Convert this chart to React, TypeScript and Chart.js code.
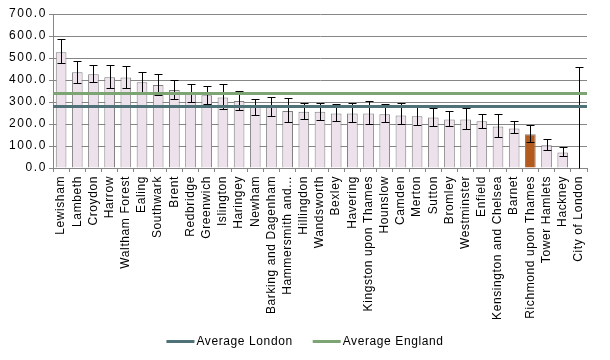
import React, { useEffect, useRef } from 'react';
import { Chart, registerables } from 'chart.js';

Chart.register(...registerables);

const boroughs = [
  'Lewisham', 'Lambeth', 'Croydon', 'Harrow', 'Waltham Forest', 'Ealing', 'Southwark', 'Brent',
  'Redbridge', 'Greenwich', 'Islington', 'Haringey', 'Newham', 'Barking and Dagenham',
  'Hammersmith and...', 'Hillingdon', 'Wandsworth', 'Bexley', 'Havering', 'Kingston upon Thames',
  'Hounslow', 'Camden', 'Merton', 'Sutton', 'Bromley', 'Westminster', 'Enfield',
  'Kensington and Chelsea', 'Barnet', 'Richmond upon Thames', 'Tower Hamlets', 'Hackney', 'City of London',
];

const rates = [
  526, 435, 426, 412, 411, 390, 377, 355,
  340, 331, 321, 304, 277, 278,
  259, 256, 256, 248, 248, 248,
  244, 239, 235, 230, 221, 221, 212,
  189, 180, 153, 103, 71, 0,
];

const ciLower = [
  477, 386, 390, 362, 362, 345, 332, 314,
  299, 291, 267, 262, 241, 236,
  208, 221, 217, 212, 208, 200,
  208, 200, 194, 189, 189, 176, 180,
  139, 158, 117, 80, 53, 0,
];

const ciUpper = [
  585, 488, 467, 467, 462, 435, 426, 399,
  380, 375, 380, 349, 312, 321,
  317, 297, 297, 292, 294, 303,
  289, 294, 276, 274, 258, 271, 244,
  244, 212, 194, 130, 94, 459,
];

const averageLabels = ['Average London', 'Average England'];
const averageValues = [280, 339];
const averageColors = ['#4E7277', '#7DA574'];

const highlightedBorough = 'Richmond upon Thames';

const yMin = 0;
const yMax = 700;
const yStep = 100;

const FONT = "'Liberation Sans', Arial, sans-serif";
const GRID = '#868686';

const errorBarPlugin = {
  id: 'errorBars',
  afterDatasetsDraw(chart: any) {
    const meta = chart.getDatasetMeta(0);
    const y = chart.scales.y;
    const ctx = chart.ctx;
    ctx.save();
    ctx.strokeStyle = '#000';
    ctx.lineWidth = 1;
    meta.data.forEach((bar: any, i: number) => {
      const x = Math.round(bar.x) + 0.5;
      const yTop = Math.round(y.getPixelForValue(ciUpper[i])) + 0.5;
      const yBot = Math.round(y.getPixelForValue(ciLower[i])) + 0.5;
      const half = 4;
      ctx.beginPath();
      ctx.moveTo(x, yTop);
      ctx.lineTo(x, yBot);
      ctx.moveTo(x - half, yTop);
      ctx.lineTo(x + half, yTop);
      if (ciLower[i] > yMin) {
        ctx.moveTo(x - half, yBot);
        ctx.lineTo(x + half, yBot);
      }
      ctx.stroke();
    });
    // average reference lines across the whole plot area
    const area = chart.chartArea;
    averageValues.forEach((v, i) => {
      const py = y.getPixelForValue(v);
      ctx.strokeStyle = averageColors[i];
      ctx.lineWidth = 3;
      ctx.beginPath();
      ctx.moveTo(area.left, py);
      ctx.lineTo(area.right, py);
      ctx.stroke();
    });
    ctx.restore();
  },
};

const spacingPlugin = {
  id: 'letterSpacing',
  beforeDraw(chart: any) {
    (chart.ctx as any).letterSpacing = '0.6px';
  },
  afterDraw(chart: any) {
    (chart.ctx as any).letterSpacing = '0px';
  },
};

const legendPlugin = {
  id: 'bottomLegend',
  afterDraw(chart: any) {
    const ctx = chart.ctx;
    ctx.save();
    ctx.font = `12px ${FONT}`;
    (ctx as any).letterSpacing = '0.6px';
    const lineW = 28;
    const gapText = 2;
    const gapItem = 20;
    const widths = averageLabels.map((l) => ctx.measureText(l).width);
    const total =
      widths.reduce((a: number, w: number) => a + lineW + gapText + w, 0) + gapItem * (averageLabels.length - 1);
    let x = (chart.width - total) / 2;
    const y = chart.height - 19;
    averageLabels.forEach((label, i) => {
      ctx.strokeStyle = averageColors[i];
      ctx.lineWidth = 3;
      ctx.beginPath();
      ctx.moveTo(x, y + 0.5);
      ctx.lineTo(x + lineW, y + 0.5);
      ctx.stroke();
      ctx.fillStyle = '#000';
      ctx.textBaseline = 'middle';
      ctx.textAlign = 'left';
      ctx.fillText(label, x + lineW + gapText, y + 1);
      x += lineW + gapText + widths[i] + gapItem;
    });
    ctx.restore();
  },
};

export default function App() {
  const ref = useRef<HTMLCanvasElement | null>(null);

  useEffect(() => {
    if (!ref.current) return;
    const barColors = boroughs.map((b) => (b === highlightedBorough ? '#B35A1E' : '#EDE1EC'));
    const chart = new Chart(ref.current, {
      type: 'bar',
      data: {
        labels: boroughs,
        datasets: [
          {
            label: 'Rate',
            data: rates,
            backgroundColor: barColors,
            borderColor: '#7F7F7F',
            borderWidth: 1,
            barPercentage: 0.66,
            categoryPercentage: 1,
          } as any,
        ],
      },
      options: {
        animation: false,
        responsive: false,
        layout: { padding: { top: 14, right: 23, bottom: 36, left: 0 } },
        plugins: {
          legend: { display: false },
          tooltip: { enabled: false },
        },
        scales: {
          x: {
            type: 'category',
            offset: true,
            grid: {
              offset: true,
              drawOnChartArea: false,
              drawTicks: true,
              tickLength: 4,
              color: GRID,
            },
            border: { display: true, color: GRID },
            ticks: {
              autoSkip: false,
              minRotation: 90,
              maxRotation: 90,
              padding: 4,
              color: '#000',
              font: { family: FONT, size: 12 },
            },
            afterFit: (scale: any) => {
              scale.height = 360 - 36 - 168;
            },
          },
          y: {
            min: yMin,
            max: yMax,
            ticks: {
              stepSize: yStep,
              padding: 2,
              color: '#000',
              font: { family: FONT, size: 12 },
              callback: (v: any) => Number(v).toFixed(1),
            },
            grid: { color: GRID, drawTicks: true, tickLength: 4 },
            border: { display: true, color: GRID },
            afterFit: (scale: any) => {
              scale.width = 53;
            },
            afterUpdate: (scale: any) => {
              if (scale.__wrapped) return;
              scale.__wrapped = true;
              const orig = scale.drawLabels.bind(scale);
              scale.drawLabels = (area: any) => {
                const c = scale.ctx as any;
                const prev = c.letterSpacing;
                c.letterSpacing = '1.6px';
                orig(area);
                c.letterSpacing = prev;
              };
            },
          },
        },
      },
      plugins: [spacingPlugin, errorBarPlugin, legendPlugin],
    });
    return () => chart.destroy();
  }, []);

  return (
    <div style={{ position: 'absolute', left: 0, top: 0, width: 610, height: 360, background: '#fff' }}>
      <canvas ref={ref} width={610} height={360} />
    </div>
  );
}
